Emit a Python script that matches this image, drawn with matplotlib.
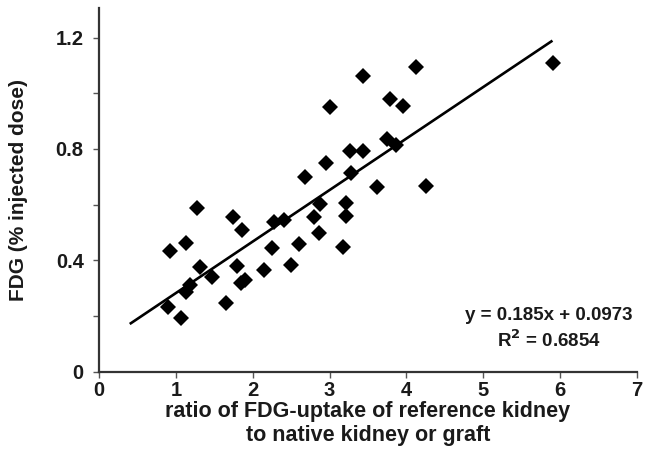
import matplotlib.pyplot as plt
import numpy as np
from matplotlib.ticker import MultipleLocator

plt.rcParams['font.family'] = ['Liberation Sans', 'DejaVu Sans']

# ratio of FDG-uptake (reference kidney / native kidney or graft)
ratio = [0.93, 1.13, 1.28, 0.90, 1.07, 1.13, 1.19, 1.32, 1.47, 1.65,
         1.75, 1.79, 1.86, 1.85, 1.90, 2.15, 2.25, 2.28, 2.41, 2.50,
         2.60, 2.68, 2.80, 2.86, 2.87, 2.95, 3.01, 3.18, 3.21, 3.21,
         3.26, 3.28, 3.44, 3.44, 3.62, 3.79, 3.75, 3.86, 3.96, 4.12,
         4.25, 5.91]
# FDG (% injected dose)
fdg = [0.434, 0.463, 0.587, 0.231, 0.192, 0.287, 0.311, 0.375, 0.341, 0.246,
       0.557, 0.380, 0.509, 0.317, 0.329, 0.365, 0.443, 0.539, 0.545, 0.383,
       0.459, 0.700, 0.554, 0.499, 0.602, 0.748, 0.949, 0.449, 0.605, 0.559,
       0.794, 0.712, 1.062, 0.794, 0.664, 0.979, 0.834, 0.814, 0.954, 1.093,
       0.667, 1.107]

slope = 0.185
intercept = 0.0973
r2 = 0.6854
fit_range = [0.4, 5.9]

W, H = 647, 467
fig = plt.figure(figsize=(W / 100, H / 100), dpi=100)
ax = fig.add_axes([99 / W, 1 - 371.7 / H, (637 - 99) / W, (371.7 - 8) / H])

ink = '#1a1a1a'
ax.plot(ratio, fdg, 'D', color='black', markersize=8, markeredgewidth=0)
xf = np.array(fit_range)
ax.plot(xf, slope * xf + intercept, color='black', linewidth=1.9, solid_capstyle='butt')

ax.set_xlim(0, 7)
ax.set_ylim(0, 1.306)
ax.xaxis.set_major_locator(MultipleLocator(1))
ax.yaxis.set_minor_locator(MultipleLocator(0.2))
ax.set_yticks([0, 0.4, 0.8, 1.2])
ax.set_yticklabels(['0', '0.4', '0.8', '1.2'])

for s in ['top', 'right']:
    ax.spines[s].set_visible(False)
for s in ['left', 'bottom']:
    ax.spines[s].set_linewidth(1.6)
    ax.spines[s].set_color('#333333')

ax.tick_params(which='both', direction='out', length=4, width=1, color='#555555',
               labelsize=14.5, labelcolor=ink, pad=3)
ax.tick_params(axis='y', pad=7)
for lab in ax.get_xticklabels() + ax.get_yticklabels():
    lab.set_fontweight('bold')

ax.set_ylabel('FDG (% injected dose)', fontsize=15, fontweight='bold', color=ink)
ax.yaxis.set_label_coords(-0.132, 0.5)
ax.set_xlabel('ratio of FDG-uptake of reference kidney\nto native kidney or graft',
              fontsize=15.5, fontweight='bold', color=ink, linespacing=1.2)
ax.xaxis.set_label_coords(0.5, -0.08)

fig.text(549 / W, 1 - 329 / H,
         'y = %.3fx + %.4f\nR$^{\\mathbf{2}}$ = %.4f' % (slope, intercept, r2),
         ha='center', va='center', fontsize=13.5, fontweight='bold', color=ink,
         multialignment='center', linespacing=1.3)

fig.savefig('out.png', dpi=100)
